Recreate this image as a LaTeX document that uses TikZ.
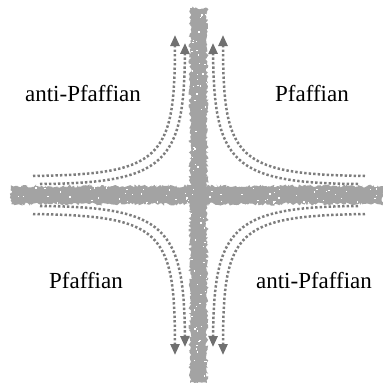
\documentclass[tikz,border=0pt]{standalone}
\usepackage{fontspec}
\setmainfont{Liberation Serif}
\usetikzlibrary{arrows.meta,decorations.pathmorphing}

\definecolor{barcol}{RGB}{163,163,163}
\definecolor{edgecol}{RGB}{125,125,125}
\definecolor{tipcol}{RGB}{112,112,112}

\tikzset{
  edgebar/.style={fill=barcol, decorate,
    decoration={random steps, segment length=1.5pt, amplitude=1.6pt}},
  edgemode/.style={edgecol, line width=2.5pt, dash pattern=on 2.4pt off 2.1pt,
    -{Triangle[width=9pt,length=11pt,fill=tipcol,color=tipcol]}},
  phase/.style={font=\fontsize{23}{23}\selectfont, anchor=base}
}

\begin{document}
\begin{tikzpicture}[x=1pt,y=-1pt]
  \useasboundingbox (0,0) rectangle (383,383);
  \pgfmathsetseed{7}
  % rough domain walls
  \path[edgebar] (190,8) rectangle (207,383); % vertical wall
  \path[edgebar] (11,186) rectangle (383,204); % horizontal wall
  \foreach \i in {1,...,70} {
    \fill[white] ({191+15*rnd},{10+370*rnd}) rectangle +(1.3,1.3); % specks
    \fill[white] ({13+368*rnd},{187+16*rnd}) rectangle +(1.3,1.3);
  }
  % edge modes bending round the corners
  \foreach \sx/\sy/\q in {1/1/ul, -1/1/ur, 1/-1/ll, -1/-1/lr} {
    \begin{scope}[shift={(199,195)}, xscale=\sx, yscale=\sy]
      \coordinate (out-h-\q) at (-166,-19);
      \coordinate (out-v-\q) at (-24,-160);
      \coordinate (in-h-\q) at (-159,-11);
      \coordinate (in-v-\q) at (-14,-152);
      \draw[edgemode] (out-h-\q) .. controls (-39,-21) and (-24,-35) .. (out-v-\q); % outer
      \draw[edgemode] (in-h-\q) .. controls (-34,-12) and (-15,-32) .. (in-v-\q); % inner
    \end{scope}
  }
  % phases
  \node[phase] (apf-ul) at (83,101) {anti-Pfaffian};
  \node[phase] (pf-ur) at (312,101) {Pfaffian};
  \node[phase] (pf-ll) at (86,288) {Pfaffian};
  \node[phase] (apf-lr) at (314,288) {anti-Pfaffian};
\end{tikzpicture}
\end{document}
